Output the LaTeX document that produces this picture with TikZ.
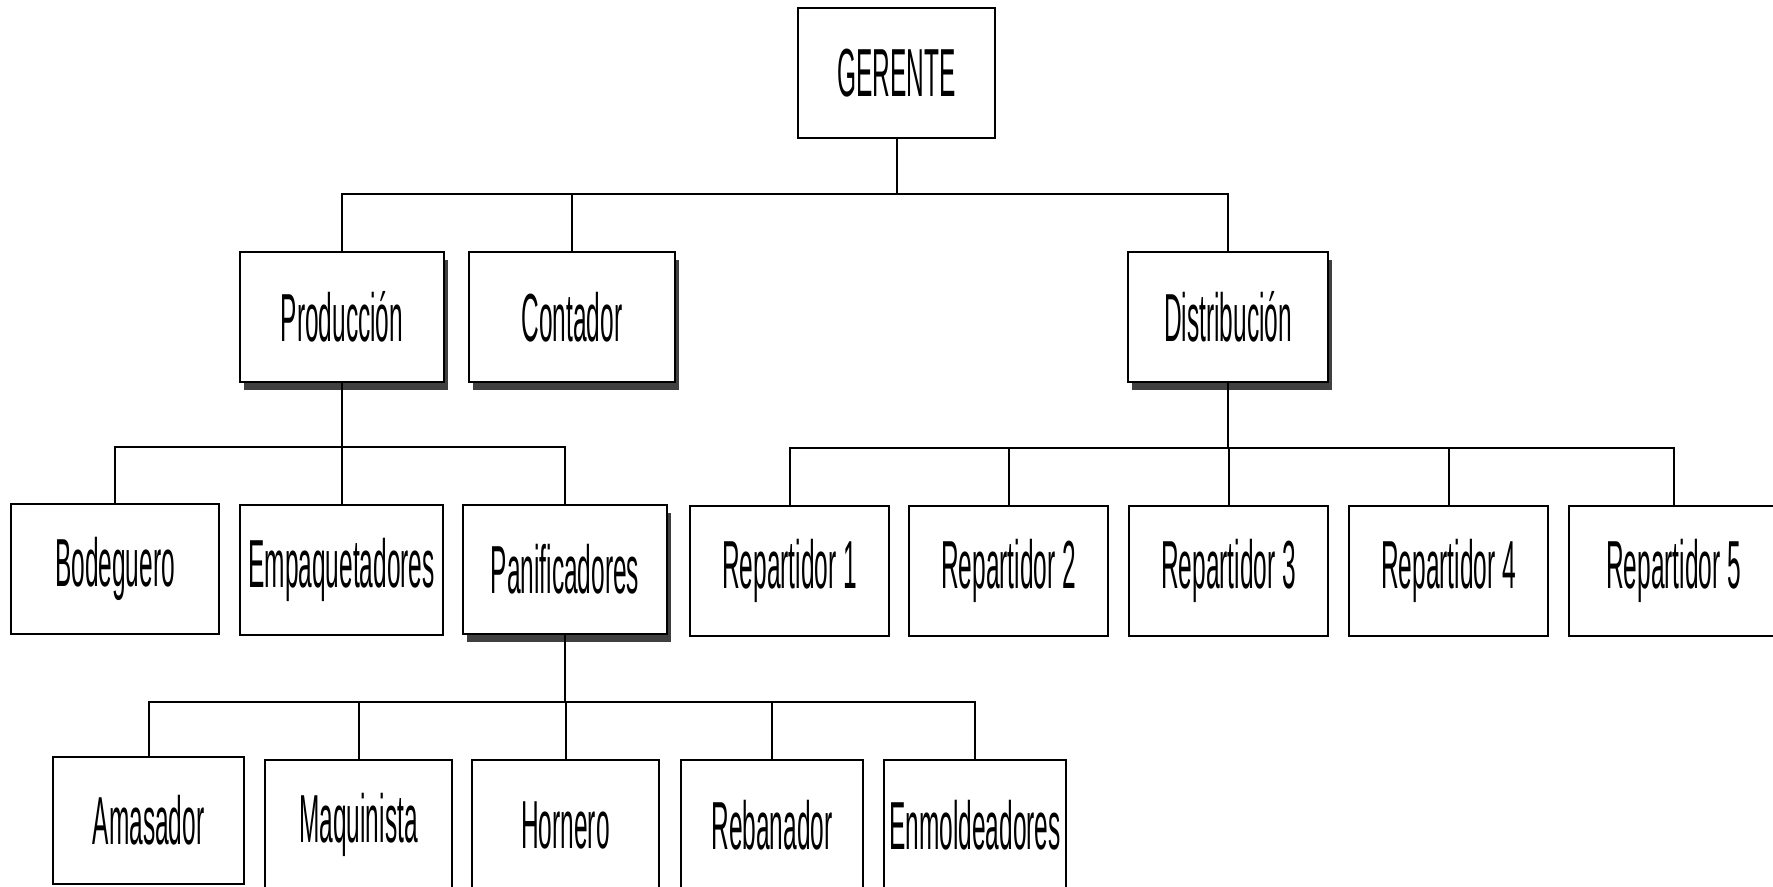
\documentclass[tikz,border=0pt]{standalone}
\usepackage{fontspec}
\setmainfont{Liberation Sans}[FakeStretch=0.36]
\usetikzlibrary{shadows}
\tikzset{
  box/.style 2 args={draw=black, line width=1.2pt, fill=white, rectangle,
    inner sep=0pt, minimum width=#1*0.5pt, minimum height=#2*0.5pt,
    font=\fontsize{34}{40}\selectfont, text=black},
  shad/.style={drop shadow={shadow xshift=2pt, shadow yshift=-4pt, opacity=1, fill=black!75}},
  link/.style={draw=black, line width=1pt}
}
\begin{document}
\begin{tikzpicture}[x=0.5pt,y=-0.5pt]
\useasboundingbox (0,0) rectangle (1773,887);
\clip (0,0) rectangle (1773,887);
\fill[white] (0,0) rectangle (1773,887);

% level 1
\node[box={197}{130}] (ger) at (896.5,73) {GERENTE};

% level 2
\node[box={204}{130},shad] (prod) at (342,317) {Producción};
\node[box={206}{130},shad] (cont) at (572,317) {Contador};
\node[box={200}{130},shad] (dist) at (1228,317) {Distribución};

% level 3
\node[box={208}{130}] (bod) at (115,569) {Bodeguero};
\node[box={203}{130}] (emp) at (341.5,570) {Empaquetadores};
\node[box={204}{129},shad] (pan) at (565,569.5) {Panificadores};
\node[box={199}{130}] (r1) at (789.5,571) {Repartidor 1};
\node[box={199}{130}] (r2) at (1008.5,571) {Repartidor 2};
\node[box={199}{130}] (r3) at (1228.5,571) {Repartidor 3};
\node[box={199}{130}] (r4) at (1448.5,571) {Repartidor 4};
\node[box={209}{130}] (r5) at (1673.5,571) {Repartidor 5};

% level 4
\node[box={191}{127}] (ama) at (148.5,820.5) {Amasador};
\node[box={187}{130}] (maq) at (358.5,825) {Maquinista};
\node[box={187}{130}] (hor) at (565.5,825) {Hornero};
\node[box={182}{130}] (reb) at (772,825) {Rebanador};
\node[box={182}{130}] (enm) at (975,825) {Enmoldeadores};

% buses
\coordinate (b1) at (896.5,194);
\coordinate (b2) at (342,447);
\coordinate (b3) at (1228,448);
\coordinate (b4) at (565,702);

\draw[link] (ger.south) -- (b1);
\draw[link] (prod.north) |- (b1) -| (dist.north);
\draw[link] (cont.north) -- (cont.north |- b1);

\draw[link] (prod.south) -- (b2);
\draw[link] (bod.north) |- (b2) -| (pan.north);
\draw[link] (emp.north) -- (emp.north |- b2);

\draw[link] (dist.south) -- (b3);
\draw[link] (r1.north) |- (b3) -| (r5.north);
\draw[link] (r2.north) -- (r2.north |- b3);
\draw[link] (r3.north) -- (r3.north |- b3);
\draw[link] (r4.north) -- (r4.north |- b3);

\draw[link] (pan.south) -- (b4);
\draw[link] (ama.north) |- (b4) -| (enm.north);
\draw[link] (maq.north) -- (maq.north |- b4);
\draw[link] (hor.north) -- (hor.north |- b4);
\draw[link] (reb.north) -- (reb.north |- b4);
\end{tikzpicture}
\end{document}
